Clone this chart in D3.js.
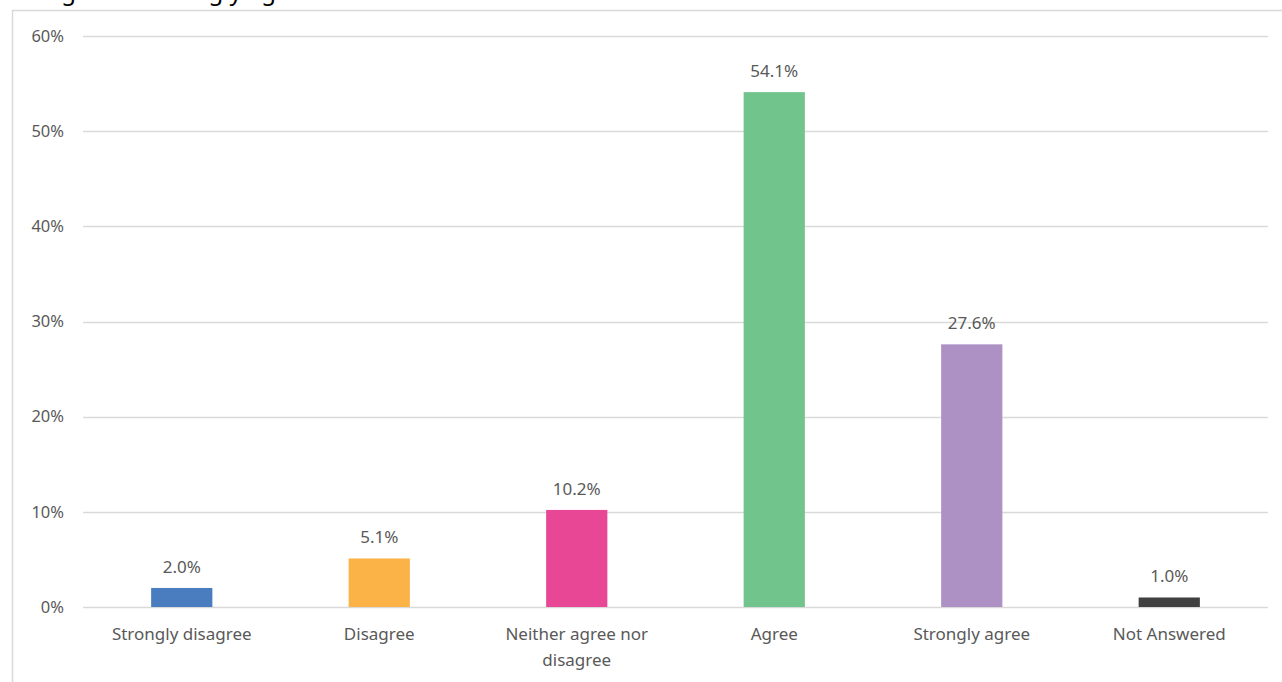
<!DOCTYPE html>
<html>
<head>
<meta charset="utf-8">
<script src="https://cdn.jsdelivr.net/npm/d3@7/dist/d3.min.js"></script>
<style>
  html, body { margin: 0; padding: 0; background: #fff; }
  svg { display: block; }
  text { font-family: "Noto Sans", "Open Sans", sans-serif; fill: #595959; }
</style>
</head>
<body>
<svg id="chart" width="1282" height="682"></svg>
<script>
// Survey response shares
const categories = ["Strongly disagree", "Disagree", "Neither agree nor disagree", "Agree", "Strongly agree", "Not Answered"];
const values = [2.0, 5.1, 10.2, 54.1, 27.6, 1.0];
const barColors = ["#4a7dc0", "#fbb246", "#e84796", "#70c48c", "#ad91c5", "#404040"];
const yTicks = [0, 10, 20, 30, 40, 50, 60];
const titleText = "Agree or strongly agree";

const svg = d3.select("#chart");
const W = 1282, H = 682;
const plot = { left: 83, right: 1268, top: 36, bottom: 607 };

// Chart frame (continues past the right and bottom edges)
svg.append("rect")
  .attr("x", 12.5).attr("y", 10.5)
  .attr("width", W + 20).attr("height", H + 20)
  .attr("fill", "none").attr("stroke", "#d9d9d9").attr("stroke-width", 1.5);

// Title, sitting above the top edge of the page
svg.append("text")
  .attr("x", 46).attr("y", 0)
  .style("font-size", "24px").style("fill", "#000")
  .text(titleText);

const x = d3.scaleBand().domain(categories).range([plot.left, plot.right]).paddingInner(0.69).paddingOuter(0.345);
const y = d3.scaleLinear().domain([0, 60]).range([plot.bottom, plot.top]);

// Gridlines
svg.append("g").selectAll("line").data(yTicks).join("line")
  .attr("x1", plot.left).attr("x2", plot.right)
  .attr("y1", d => Math.round(y(d)) + 0.5).attr("y2", d => Math.round(y(d)) + 0.5)
  .attr("stroke", "#d9d9d9").attr("stroke-width", 1.3);

// Y axis labels
const yAxis = d3.axisLeft(y).tickValues(yTicks).tickFormat(d => d + "%").tickSize(0).tickPadding(0);
const gy = svg.append("g").attr("transform", `translate(64,0)`).call(yAxis);
gy.select(".domain").remove();
gy.selectAll("text").style("font-size", "16.5px").style("fill", "#595959").attr("font-family", null);

// Bars
svg.append("g").selectAll("rect").data(categories).join("rect")
  .attr("x", d => x(d))
  .attr("width", x.bandwidth())
  .attr("y", (d, i) => y(values[i]))
  .attr("height", (d, i) => y(0) - y(values[i]))
  .attr("fill", (d, i) => barColors[i]);

// Value labels
svg.append("g").selectAll("text").data(categories).join("text")
  .attr("x", d => x(d) + x.bandwidth() / 2)
  .attr("y", (d, i) => y(values[i]) - 15)
  .attr("text-anchor", "middle")
  .style("font-size", "17px")
  .text((d, i) => values[i].toFixed(1) + "%");

// Category labels, wrapped
const maxLabelWidth = 175;
svg.append("g").selectAll("text").data(categories).join("text")
  .attr("x", d => x(d) + x.bandwidth() / 2)
  .attr("y", 640)
  .attr("text-anchor", "middle")
  .style("font-size", "17px")
  .each(function(d) {
    const t = d3.select(this);
    const cx = +t.attr("x");
    const words = d.split(" ");
    let line = [];
    let tspan = t.append("tspan").attr("x", cx).attr("dy", 0);
    for (const w of words) {
      line.push(w);
      tspan.text(line.join(" "));
      if (tspan.node().getComputedTextLength() > maxLabelWidth && line.length > 1) {
        line.pop();
        tspan.text(line.join(" "));
        line = [w];
        tspan = t.append("tspan").attr("x", cx).attr("dy", "26px").text(w);
      }
    }
  });
</script>
</body>
</html>
